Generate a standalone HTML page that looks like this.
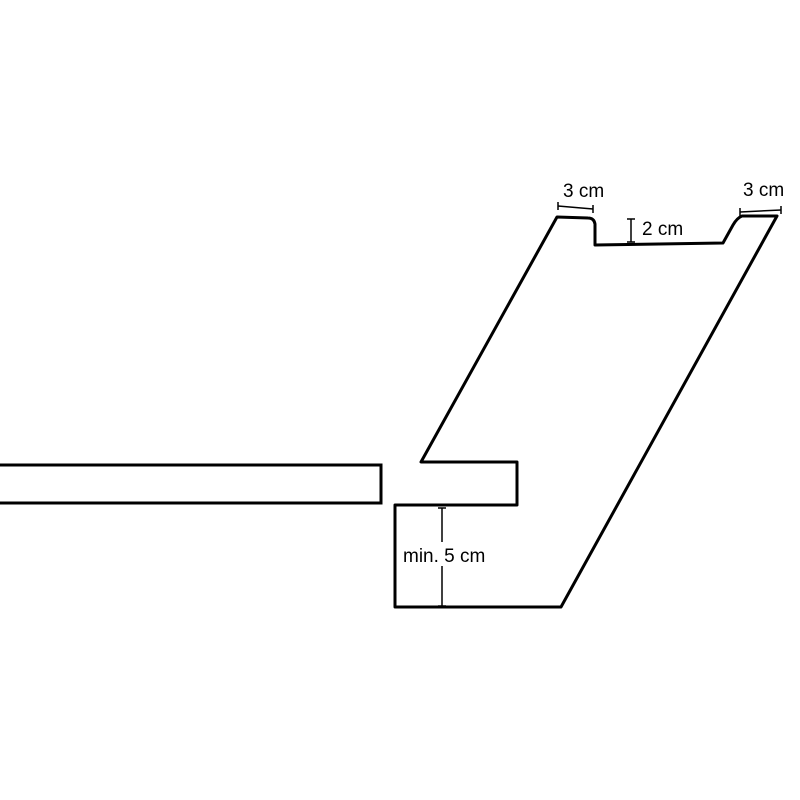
<!DOCTYPE html>
<html><head><meta charset="utf-8"><style>
html,body{margin:0;padding:0;background:#fff;}
svg{display:block}
text{font-family:"Liberation Sans",sans-serif;fill:#000}
</style></head><body>
<svg width="800" height="800" viewBox="0 0 800 800">
<rect x="-5" y="465" width="386" height="38" fill="none" stroke="#000" stroke-width="3"/>
<path d="M421,462 L517,462 L517,505 L395,505 L395,607 L561,607 L777,216 L742,216 Q737,218 733,225 L723,243 L595,245 L595,224 Q594,218 588,218 L557,217 Z" fill="none" stroke="#000" stroke-width="3" stroke-linejoin="round"/>
<g stroke="#000" stroke-width="1.5" fill="none">
<line x1="558" y1="206" x2="593" y2="209"/>
<line x1="558" y1="202" x2="558" y2="210"/><line x1="593" y1="205" x2="593" y2="213"/>
<line x1="740" y1="212" x2="781" y2="210"/>
<line x1="740" y1="208" x2="740" y2="216"/><line x1="781" y1="206" x2="781" y2="214"/>
<line x1="631" y1="219" x2="631" y2="242"/>
<line x1="627" y1="219" x2="635" y2="219"/><line x1="627" y1="242" x2="635" y2="242"/>
<line x1="442" y1="508" x2="442" y2="606"/>
<line x1="438" y1="508" x2="446" y2="508"/><line x1="438" y1="606" x2="446" y2="606"/>
</g>
<rect x="401" y="542" width="84" height="24" fill="#fff"/>
<text x="563" y="197" font-size="19">3 cm</text>
<text x="743" y="196" font-size="19">3 cm</text>
<text x="642" y="235" font-size="19">2 cm</text>
<text x="403" y="562" font-size="19">min. 5 cm</text>
</svg>
</body></html>
